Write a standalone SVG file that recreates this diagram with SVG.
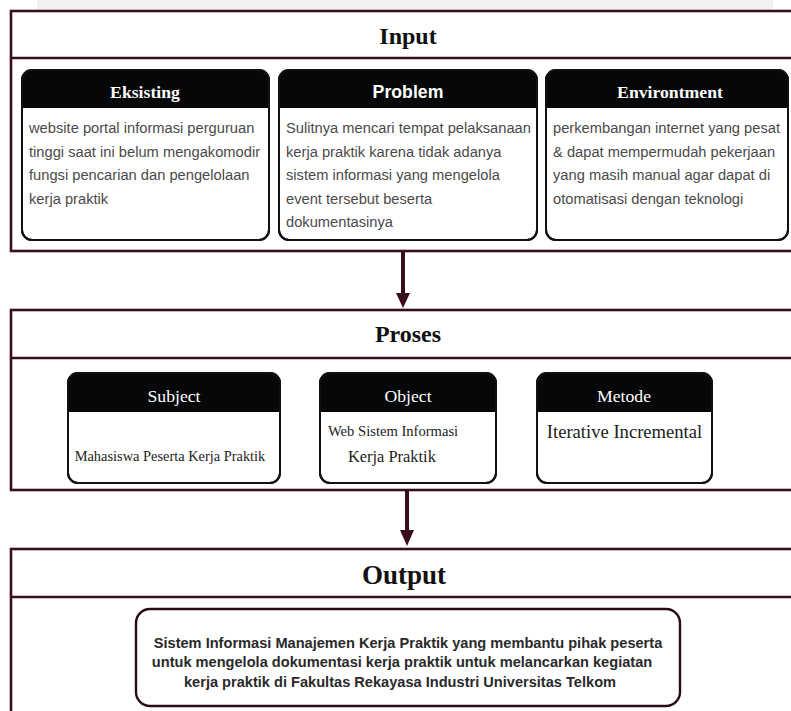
<svg xmlns="http://www.w3.org/2000/svg" width="791" height="711" viewBox="0 0 791 711">
<style>
.frame{fill:#fff;stroke:#3a0d1b;stroke-width:2.6}
.div{stroke:#3a0d1b;stroke-width:2.6}
.title{font-family:"Liberation Serif",serif;font-weight:bold;font-size:24px;fill:#111;text-anchor:middle}
.card{fill:#fff;stroke:#111;stroke-width:2}
.hdr{fill:#050708}
.hs{font-family:"Liberation Serif",serif;font-weight:bold;font-size:17.7px;fill:#fff;text-anchor:middle}
.hsans{font-family:"Liberation Sans",Arial,sans-serif;font-weight:bold;font-size:17.7px;fill:#fff;text-anchor:middle}
.hr{font-family:"Liberation Serif",serif;font-size:17.7px;fill:#fff;text-anchor:middle}
.body{font-family:"Liberation Sans",Arial,sans-serif;font-size:14.7px;fill:#4a4a4a}
.ser{font-family:"Liberation Serif",serif;fill:#222}
.out{font-family:"Liberation Sans",Arial,sans-serif;font-weight:bold;font-size:14.6px;fill:#2a2a2a;text-anchor:middle}
.conn{stroke:#3a0d1b;stroke-width:4;fill:none}
.head{fill:#3a0d1b}
</style>
<rect x="37" y="0" width="736" height="9" fill="#f1f1f1"/>

<g id="input">
<rect class="frame" x="11" y="11" width="800" height="240"/>
<line class="div" x1="11" y1="58" x2="800" y2="58"/>
<text class="title" x="408" y="44">Input</text>
</g>

<g id="eksisting">
<rect class="card" x="22" y="70" width="247" height="170" rx="10"/>
<path class="hdr" d="M22,108 V80 A10,10 0 0 1 32,70 H259 A10,10 0 0 1 269,80 V108 Z"/>
<rect x="22" y="70" width="247" height="170" rx="10" fill="none" stroke="#111" stroke-width="2"/>
<text class="hs" x="145" y="98">Eksisting</text>
<text class="body" x="29" y="133">website portal informasi perguruan</text>
<text class="body" x="29" y="156.5">tinggi saat ini belum mengakomodir</text>
<text class="body" x="29" y="180">fungsi pencarian dan pengelolaan</text>
<text class="body" x="29" y="203.5">kerja praktik</text>
</g>

<g id="problem">
<rect class="card" x="279" y="70" width="258" height="170" rx="10"/>
<path class="hdr" d="M279,108 V80 A10,10 0 0 1 289,70 H527 A10,10 0 0 1 537,80 V108 Z"/>
<rect x="279" y="70" width="258" height="170" rx="10" fill="none" stroke="#111" stroke-width="2"/>
<text class="hsans" x="408" y="98">Problem</text>
<text class="body" x="286" y="133">Sulitnya mencari tempat pelaksanaan</text>
<text class="body" x="286" y="156.5">kerja praktik karena tidak adanya</text>
<text class="body" x="286" y="180">sistem informasi yang mengelola</text>
<text class="body" x="286" y="203.5">event tersebut beserta</text>
<text class="body" x="286" y="227">dokumentasinya</text>
</g>

<g id="environtment">
<rect class="card" x="546" y="70" width="242" height="170" rx="10"/>
<path class="hdr" d="M546,108 V80 A10,10 0 0 1 556,70 H778 A10,10 0 0 1 788,80 V108 Z"/>
<rect x="546" y="70" width="242" height="170" rx="10" fill="none" stroke="#111" stroke-width="2"/>
<text class="hs" x="670" y="98">Environtment</text>
<text class="body" x="553" y="133">perkembangan internet yang pesat</text>
<text class="body" x="553" y="156.5">&amp; dapat mempermudah pekerjaan</text>
<text class="body" x="553" y="180">yang masih manual agar dapat di</text>
<text class="body" x="553" y="203.5">otomatisasi dengan teknologi</text>
</g>

<g id="proses">
<rect class="frame" x="11" y="310" width="800" height="180"/>
<line class="div" x1="11" y1="358" x2="800" y2="358"/>
<text class="title" x="408" y="342">Proses</text>
</g>

<g id="subject">
<rect class="card" x="68" y="373" width="212" height="110" rx="10"/>
<path class="hdr" d="M68,412 V383 A10,10 0 0 1 78,373 H270 A10,10 0 0 1 280,383 V412 Z"/>
<rect x="68" y="373" width="212" height="110" rx="10" fill="none" stroke="#111" stroke-width="2"/>
<text class="hr" x="174" y="402">Subject</text>
<text class="ser" x="170" y="461" font-size="14.4" text-anchor="middle">Mahasiswa Peserta Kerja Praktik</text>
</g>

<g id="object">
<rect class="card" x="320" y="373" width="176" height="110" rx="10"/>
<path class="hdr" d="M320,412 V383 A10,10 0 0 1 330,373 H486 A10,10 0 0 1 496,383 V412 Z"/>
<rect x="320" y="373" width="176" height="110" rx="10" fill="none" stroke="#111" stroke-width="2"/>
<text class="hr" x="408" y="402">Object</text>
<text class="ser" x="328" y="436" font-size="14.6">Web Sistem Informasi</text>
<text class="ser" x="348" y="462" font-size="16.4">Kerja Praktik</text>
</g>

<g id="metode">
<rect class="card" x="537" y="373" width="175" height="110" rx="10"/>
<path class="hdr" d="M537,412 V383 A10,10 0 0 1 547,373 H702 A10,10 0 0 1 712,383 V412 Z"/>
<rect x="537" y="373" width="175" height="110" rx="10" fill="none" stroke="#111" stroke-width="2"/>
<text class="hr" x="624" y="402">Metode</text>
<text class="ser" x="624.5" y="438" font-size="18.6" text-anchor="middle">Iterative Incremental</text>
</g>

<g id="output">
<rect class="frame" x="11" y="549" width="800" height="180"/>
<line class="div" x1="11" y1="597" x2="800" y2="597"/>
<text class="title" x="404" y="584" style="font-size:27px">Output</text>
</g>

<g id="output-result">
<rect x="136" y="609" width="544" height="97" rx="14" fill="#fff" stroke="#2a0a14" stroke-width="2.4"/>
<text class="out" x="408" y="648">Sistem Informasi Manajemen Kerja Praktik yang membantu pihak peserta</text>
<text class="out" x="402" y="667">untuk mengelola dokumentasi kerja praktik untuk melancarkan kegiatan</text>
<text class="out" x="400" y="687">kerja praktik di Fakultas Rekayasa Industri Universitas Telkom</text>
</g>

<g id="connectors">
<line class="conn" x1="403" y1="252" x2="403" y2="295"/>
<polygon class="head" points="396,293 410,293 403,308"/>
<line class="conn" x1="407" y1="491" x2="407" y2="532"/>
<polygon class="head" points="400,530 414,530 407,546"/>
</g>
</svg>
